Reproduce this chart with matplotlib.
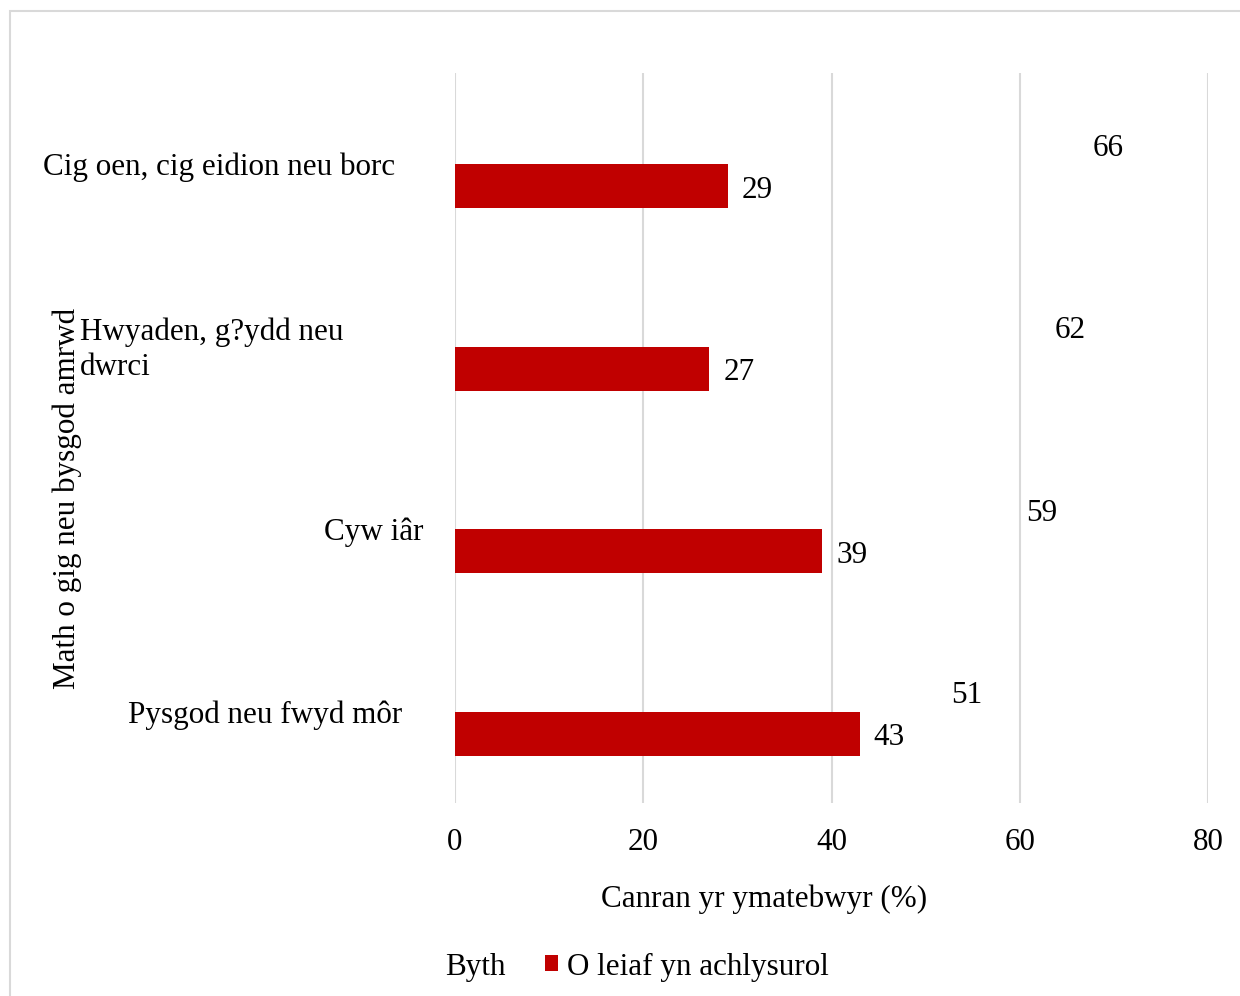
import matplotlib.pyplot as plt
import matplotlib.transforms as mtransforms
from matplotlib.patches import Rectangle, Patch
import numpy as np

plt.rcParams['font.family'] = ['Liberation Serif', 'DejaVu Serif']

categories = ["Cig oen, cig eidion neu borc", "Hwyaden, g?ydd neu\ndwrci", "Cyw iâr", "Pysgod neu fwyd môr"]
byth = [66, 62, 59, 51]
achlysurol = [29, 27, 39, 43]
series_names = ["Byth", "O leiaf yn achlysurol"]
xticks = [0, 20, 40, 60, 80]

W, H = 1240, 996
FS = 22.4
fig = plt.figure(figsize=(W / 100, H / 100), dpi=100)
# outer chart border (light grey), only top and left edges show
fig.patches.append(Rectangle((10 / W, -0.1), 1.2, 1.1 - 11 / H, transform=fig.transFigure,
                             fill=False, edgecolor='#d9d9d9', linewidth=1.5))

ax = fig.add_axes([455 / W, 1 - 803 / H, (1208 - 455) / W, (803 - 73) / H])
y = np.arange(len(categories))
bh = 0.24
red = '#c00000'
# "Byth" series has no fill in the source chart
ax.barh(y - bh / 2, byth, height=bh, color='none')
ax.barh(y + bh / 2, achlysurol, height=bh, color=red)

for yi, v in zip(y, byth):
    ax.annotate(str(v), (v, yi - bh / 2), xytext=(16, -6), textcoords='offset pixels',
                va='center', ha='left', fontsize=FS)
for yi, v in zip(y, achlysurol):
    ax.annotate(str(v), (v, yi + bh / 2), xytext=(14, -4), textcoords='offset pixels',
                va='center', ha='left', fontsize=FS)

ax.set_xlim(0, 80)
ax.set_ylim(len(categories) - 0.5, -0.5)
ax.set_xticks(xticks)
ax.set_xticklabels([str(t) for t in xticks], fontsize=FS)
ax.tick_params(axis='x', length=0, pad=18)
ax.set_yticks([])
ax.grid(axis='x', color='#d9d9d9', linewidth=1.5)
ax.set_axisbelow(True)
for s in ax.spines.values():
    s.set_visible(False)

# category labels
trans = mtransforms.blended_transform_factory(fig.transFigure, ax.transData)
trans = trans + mtransforms.ScaledTranslation(0, -3 / 100, fig.dpi_scale_trans)
label_pos = [(395, 'right'), (80, 'left'), (424, 'right'), (402, 'right')]
for yi, lab, (px, ha) in zip(y, categories, label_pos):
    ax.text(px / W, yi, lab, transform=trans, ha=ha, va='center', fontsize=FS,
            multialignment='left', linespacing=1.3)

fig.text(764 / W, 1 - 899 / H, "Canran yr ymatebwyr (%)", ha='center', va='center', fontsize=FS)
fig.text(67 / W, 1 - 498 / H, "Math o gig neu bysgod amrwd", rotation=90,
         ha='center', va='center', fontsize=FS)

handles = [Patch(facecolor='white', edgecolor='none'), Patch(facecolor=red, edgecolor='none')]
fig.legend(handles, series_names, loc='center', bbox_to_anchor=(626 / W, 1 - 967 / H),
           ncol=2, frameon=False, fontsize=FS, handlelength=0.42, handleheight=0.42,
           handletextpad=0.26, columnspacing=1.29)

fig.savefig("out.png", dpi=100)
